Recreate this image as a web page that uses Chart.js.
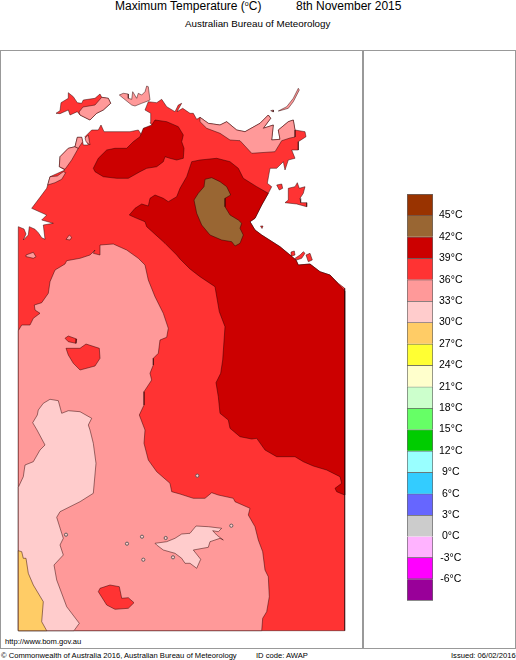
<!DOCTYPE html>
<html>
<head>
<meta charset="utf-8">
<title>Maximum Temperature</title>
<script src="https://cdn.jsdelivr.net/npm/chart.js@4"></script>
<style>
html, body { margin: 0; padding: 0; background: #fff; }
body { position: relative; width: 516px; height: 660px; overflow: hidden; font-family: "Liberation Sans", Arial, sans-serif; color: #000; }
.txt { position: absolute; white-space: nowrap; line-height: 1; }
.box { position: absolute; left: 0; top: 50px; width: 514px; height: 597px; border: 1.5px solid #999; }
.divider { position: absolute; left: 362px; top: 50px; width: 1.5px; height: 598px; background: #999; }
sup { font-size: 7px; vertical-align: 4px; line-height: 0; }
canvas { position: absolute; }
</style>
</head>
<body>
<div class="box"></div>
<div class="divider"></div>
<div class="txt" style="left:115px;top:0px;font-size:12px">Maximum Temperature (<sup>o</sup>C)</div>
<div class="txt" style="left:296px;top:0px;font-size:12px">8th November 2015</div>
<div class="txt" style="left:185px;top:19px;font-size:9.8px">Australian Bureau of Meteorology</div>
<div class="txt" style="left:5px;top:638px;font-size:7.6px">http://www.bom.gov.au</div>
<div class="txt" style="left:1px;top:652px;font-size:7.6px">© Commonwealth of Australia 2016, Australian Bureau of Meteorology</div>
<div class="txt" style="left:256px;top:652px;font-size:7.6px">ID code: AWAP</div>
<div class="txt" style="left:451px;top:652px;font-size:7.6px">Issued: 06/02/2016</div>
<canvas id="map" width="329" height="583" style="left:17px;top:49px"></canvas>
<canvas id="scale" width="146" height="433" style="left:370px;top:180px"></canvas>
<script>
// ---------------- Colour scale ----------------
const bandLows = [45, 42, 39, 36, 33, 30, 27, 24, 21, 18, 15, 12, 9, 6, 3, 0, -3, -6, -9];
const bandColours = ["#993300", "#996633", "#CC0000", "#FF3333", "#FF9999", "#FFCCCC", "#FFCC66", "#FFFF33", "#FFFFCC",
    "#CCFFCC", "#66FF66", "#00CC00", "#99FFFF", "#33CCFF", "#6666FF", "#CCCCCC", "#FFB3FF", "#FF00FF", "#990099"];
const tickValues = [45, 42, 39, 36, 33, 30, 27, 24, 21, 18, 15, 12, 9, 6, 3, 0, -3, -6];

// ---------------- Contours ----------------
const landMain = [[18.3,226.7],[24,229],[26,234],[23.3,240],[28.3,235],[29.3,226.7],[35,229.3],[38.3,232.7],[41.7,237.7],[45,239.3],[43.3,225],[53.3,223.3],[41.7,220],[46.7,215],[31.7,208.3],[40,197.3],[46.7,188.3],[47.7,185],[50,176.7],[65,170],[59.3,166.7],[60,156.7],[68.3,148.3],[75,146.7],[77.3,137.3],[81.7,137.3],[83.3,145],[88.3,145],[85,136.7],[91.7,130],[98.3,130],[101,125],[104,131.7],[120,131.7],[130,131.7],[138.3,130],[141.7,135],[144,128.3],[155,128.3],[150,122.7],[150.7,113.3],[145,110],[148.3,101.7],[156.7,102.7],[161.7,99.3],[166.7,106.7],[175,111.7],[178.3,105],[181.7,103.3],[177,111.7],[182.7,108.3],[190,113.3],[193.3,113.3],[196.7,119.3],[200,117.3],[208.3,123.3],[220,125],[226.7,121.7],[236.7,130],[245,131.7],[260,123.3],[268.3,115],[270.7,118.3],[263.3,128.3],[273.3,125],[271.7,140],[280,139.3],[278.3,130],[288.3,121.7],[293.3,120],[295,130],[305,131.7],[306,136.7],[298.3,141.7],[298.3,150],[291.7,150],[295,158.3],[288.3,160],[285,170],[283.3,161.7],[276.7,168.3],[270,168.3],[267.3,183.3],[271.7,186.7],[268.3,193.3],[261.7,205],[255,218.3],[250,221.7],[255,230],[261.7,235],[280,246.7],[290,255],[296,260],[298.3,265],[310,264],[320,271.7],[330,275],[338.3,283.3],[344.7,288.3],[344.7,630.7],[18.3,630.7]];
const landTiwi = [[56,113.3],[60,110.7],[61,102.7],[68.3,98.3],[68.3,92.7],[73.3,96.7],[77.3,102.7],[81.7,103.3],[83.3,100],[95,98.3],[100,94],[101.7,97.3],[108.3,98.3],[110.7,103.3],[103.3,110],[96.7,113.3],[90,120],[80,115],[77.3,111.7],[70,115],[68.3,110],[60,113.7]];
const landGroote = [[285,202.7],[288.3,200],[288.3,188.3],[295,186.7],[297.3,182.7],[299.3,188.3],[305,186.7],[303.3,193.3],[300,198.3],[300.7,202.7],[306.7,202.7],[306.7,206.7],[296.7,204]];
const landIslet1 = [[276.7,185],[281.7,184],[282.7,188.3],[279.3,190]];
const landIslet2 = [[260.5,226],[263,226],[262,228.5]];
const landIslet3 = [[291,252],[294.3,251],[295,255],[291.7,256]];
const landIslet4 = [[295,258.3],[300,255],[303.3,251.7],[305,253.3],[301.7,258.3],[296.7,260]];
const landIslet5 = [[306,255],[310,253.3],[312.3,260],[308.3,261.7]];

const warmTiwi = [[79,112],[83,107],[95,105],[101.7,97.3],[108.3,98.3],[110.7,103.3],[103.3,110],[96.7,113.3],[90,120],[80,115]];
const warmCoburg = [[119.3,95],[123.3,93.3],[128.3,94],[128.3,98.3],[131.7,99.3],[132.7,91.7],[136.7,98.3],[138.3,93.3],[141.7,95],[145,91.7],[146.7,86],[148.3,86.7],[150,100],[146,101.7],[141.7,103.3],[135,106],[131.7,105],[123.3,98.3]];
const warmCroker = [[278.3,111],[286.7,106.7],[293.3,98.3],[298.3,88.3],[299.3,90],[293.3,101.7],[288.3,108.3],[280,110.7]];
const warmDot = [[270.7,110.7],[273.3,110],[273.3,112]];
const warmCoast1 = [[47.7,185],[50,176.7],[57.3,176],[63.3,171.7],[65.7,172.7],[61.7,179.3],[55,182.7]];
const warmCoast2 = [[59.3,166.7],[60,156.7],[68.3,148.3],[75,146.7],[78.3,148.3],[71.7,160],[65,169.3]];
const warmCoast3 = [[77.3,137.3],[81.7,137.3],[82.7,141.7],[78.3,148.3],[75,146.7]];
const warmCoast4 = [[85,138],[88.3,135],[90,145],[86,141.7]];
const warmNorth = [[200,117.3],[208.3,123.3],[220,125],[226.7,121.7],[236.7,130],[245,131.7],[260,123.3],[268.3,115],[270.7,118.3],[263.3,128.3],[273.3,125],[271.7,140],[280,139.3],[278.3,130],[288.3,121.7],[293.3,120],[295,130],[295,137],[290,138],[281.7,140.7],[275,151.7],[251.7,153.3],[240,140.7],[230,140],[220,133.3],[206.7,128.3],[200,121.7]];
const warmSpot1 = [[26,255],[33.3,252.3],[36,256.7],[33.3,258.3],[26.7,256.7]];
const warmSpot2 = [[66,239.3],[69.3,235],[71.7,237.3],[70,240]];
const warmInland = [[18.3,330.7],[21.7,325],[30,325],[33.3,318.3],[40,313.3],[35,310],[34.3,305],[41.7,302.7],[48.3,293.3],[50,281.7],[55,270],[65,264],[66.7,260.7],[80,258.3],[90,255],[95,250],[93.3,253.3],[100,255],[100,245],[113.3,244],[126.7,250],[138.3,258.3],[145,265],[148.3,280],[155,296.7],[163.3,313.3],[168.3,328.3],[166.7,337.3],[160,340],[158.3,353.3],[153.3,358.3],[153.3,365],[150,373.3],[151.7,380],[144,391.7],[144,405],[139.3,415],[145,430],[144,443.3],[148.3,460],[156.7,471.7],[170,483.3],[171.7,491.7],[180,494],[193.3,498.3],[205,498.3],[211.7,492.7],[218.3,495],[233.3,498.3],[235,501.7],[250,508.3],[248.3,515],[255,526.7],[258.3,540],[262.7,551.7],[265,570],[268.3,576.7],[269.3,596.7],[266.7,611.7],[262.7,618.3],[261.7,630.7],[18.3,630.7]];

const hotBlob1 = [[66,348.3],[80,348.3],[86,344],[99.3,348.3],[100,358.3],[95,366],[80,370],[73.3,363.3],[68.3,355]];
const hotBlob2 = [[65,338.3],[68.3,336],[76.7,339],[76,343.3],[68.3,341.7]];
const hotBlob3 = [[98.3,591.7],[100,588.3],[110,585],[119.3,586.7],[121.7,598.3],[128.3,597.7],[134,602.7],[128.3,608.3],[115,609.3],[106.7,605]];

const mildWest = [[32.7,422.7],[37.3,415],[38.3,410],[43.3,403.3],[50,399.3],[58.3,400.7],[61.7,413.3],[68.3,410.7],[80,411.7],[91.7,418.3],[88.3,425],[90,430],[93.3,443.3],[96,463.3],[93.3,493.3],[80,501.7],[60,511.7],[56.7,517.3],[61.7,533.3],[63.3,538.3],[60,545],[63.3,555],[54,565],[56.7,580],[66.7,606.7],[79.3,623.3],[74,630.7],[18.3,630.7],[18.3,487.3],[23.3,476.7],[25,465],[33.3,461.7],[40,450],[45,445],[37,430]];
const mildEast = [[155,543.3],[166.7,541.7],[175,538.3],[181.7,534],[190,533.3],[196,526],[208.3,526.7],[221.7,528.3],[218.3,531.7],[212.7,530.7],[216.7,535],[223.3,540],[220,538.3],[210,541.7],[208.3,547.3],[193.3,550],[200.7,559.3],[196.7,568.3],[190,563.3],[185,563.3],[181.7,558.3],[175,553.3],[163.3,550],[156.7,545]];
const coolWest = [[18.3,550.7],[21.7,551.7],[23.3,558.3],[26,558.3],[28.3,573.3],[33.3,585],[43.3,601.7],[41.7,621.7],[46.7,630.7],[18.3,630.7]];

const hotterNorth = [[93.3,168.3],[98.3,158.3],[106.7,150],[115,148.3],[126.7,148.3],[133.3,141.7],[140,136.7],[143.3,128.3],[151.7,125],[155,120],[166.7,121.7],[178.3,126.7],[183.3,135],[181.7,141.7],[184,148.3],[183.3,158.3],[176.7,160],[170,158.3],[165,156.7],[163.3,161.7],[156.7,166.7],[146.7,168.3],[140,171.7],[128.3,178.3],[116.7,178.3],[103.3,176.7],[95,171.7]];
const hotterMain = [[129.3,215],[135,208.3],[141.7,204],[148.3,206],[150,198.3],[155,195],[163.3,198.3],[168.3,201.7],[176.7,196.7],[180,188.3],[186.7,176.7],[191.7,161.7],[200,160],[216.7,158.3],[230,161.7],[238.3,168.3],[243.3,178.3],[256.7,186.7],[268.3,193.3],[261.7,205],[255,218.3],[250,221.7],[255,230],[261.7,235],[280,246.7],[290,255],[296,260],[298.3,265],[310,264],[320,271.7],[330,275],[344.7,291],[344.7,495],[336.7,491.7],[335,488.3],[341.7,483.3],[340,476.7],[326.7,470],[313.3,466],[303.3,461.7],[295,456.7],[276.7,456.7],[265,450],[256.7,438.3],[251.7,439],[240,436.7],[230,428.3],[228.3,420],[220,413.3],[218.3,396.7],[216,382.7],[220.7,373.3],[222.7,360],[225,326.7],[219.3,311.7],[215,286.7],[200,276.7],[190,269],[180,259],[176.7,255],[165,243.3],[146.7,226.7],[145,221.7],[136.7,218.3]];
const hottest = [[194,200],[198.3,193.3],[204,186.7],[205,179.3],[211.7,177.7],[220,181.7],[226.7,186.7],[230.7,195],[225,198.3],[225,206.7],[230,215],[238.3,220],[241.7,223.3],[240,228.3],[243.3,235],[240,243.3],[235,246],[231.7,241.7],[221.7,240],[210,235],[201.7,225],[196.7,213.3]];

const spotX = [66, 142, 127, 143.3, 165.7, 173, 231.3, 197.3];
const spotY = [534.7, 536.7, 543.7, 559.7, 538, 557.3, 525.7, 475.7];

// ---------------- Map ----------------
const RED = "#FF3333", PINK = "#FF9999", PALE = "#FFCCCC", ORANGE = "#FFCC66", DARK = "#CC0000", BROWN = "#996633";

// painted bottom to top
const layers = [
    [landMain, RED], [landTiwi, RED], [landGroote, RED], [landIslet1, RED], [landIslet2, RED],
    [landIslet3, RED], [landIslet4, RED], [landIslet5, RED],
    [warmTiwi, PINK], [warmCoburg, PINK], [warmCroker, PINK], [warmDot, PINK], [warmCoast1, PINK],
    [warmCoast2, PINK], [warmCoast3, PINK], [warmCoast4, PINK], [warmNorth, PINK],
    [warmSpot1, PINK], [warmSpot2, PINK], [warmInland, PINK],
    [hotBlob1, RED], [hotBlob2, RED], [hotBlob3, RED],
    [mildWest, PALE], [mildEast, PALE], [coolWest, ORANGE],
    [hotterNorth, DARK], [hotterMain, DARK], [hottest, BROWN]
];

const polygonSets = layers.map(([pts, colour]) => ({
    data: pts.concat([pts[0]]).map(p => ({ x: p[0], y: p[1] })),
    showLine: true,
    fill: "shape",
    backgroundColor: colour,
    borderColor: "rgba(40,0,0,0.6)",
    borderWidth: 0.8,
    pointRadius: 0,
    tension: 0
}));

const spotSet = {
    data: spotX.map((x, i) => ({ x, y: spotY[i] })),
    showLine: false,
    backgroundColor: PALE,
    borderColor: "#555",
    borderWidth: 0.9,
    pointRadius: 1.6
};

// Chart.js paints the first dataset on top, so the list is flipped
new Chart(document.getElementById("map"), {
    type: "scatter",
    data: { datasets: [spotSet, ...polygonSets.slice().reverse()] },
    options: {
        responsive: false,
        animation: false,
        devicePixelRatio: 1,
        layout: { padding: 0, autoPadding: false },
        plugins: { legend: { display: false }, tooltip: { enabled: false } },
        scales: {
            x: { type: "linear", display: false, min: 17, max: 346 },
            y: { type: "linear", display: false, min: 49, max: 632, reverse: true }
        }
    }
});

// ---------------- Colour bar ----------------
new Chart(document.getElementById("scale"), {
    type: "bar",
    data: {
        labels: ["band"],
        datasets: bandLows.map((low, i) => ({
            data: [[low, low + 3]],
            backgroundColor: bandColours[i],
            borderColor: "#666",
            borderWidth: 1,
            grouped: false,
            categoryPercentage: 1,
            barPercentage: 1
        }))
    },
    options: {
        responsive: false,
        animation: false,
        devicePixelRatio: 1,
        layout: { padding: { left: 37, top: 14, bottom: 5.5, right: 0 }, autoPadding: false },
        plugins: { legend: { display: false }, tooltip: { enabled: false } },
        scales: {
            x: { display: false },
            y: {
                position: "right",
                min: -9,
                max: 48,
                grid: { display: false, drawTicks: false },
                border: { display: false },
                afterFit: s => { s.width = 83; },
                afterBuildTicks: s => { s.ticks = tickValues.map(v => ({ value: v })); },
                ticks: {
                    autoSkip: false,
                    padding: 6,
                    crossAlign: "center",
                    color: "#000",
                    font: { family: "Liberation Sans", size: 10.5 },
                    callback: v => `${v}°C`
                }
            }
        }
    }
});
</script>
</body>
</html>
